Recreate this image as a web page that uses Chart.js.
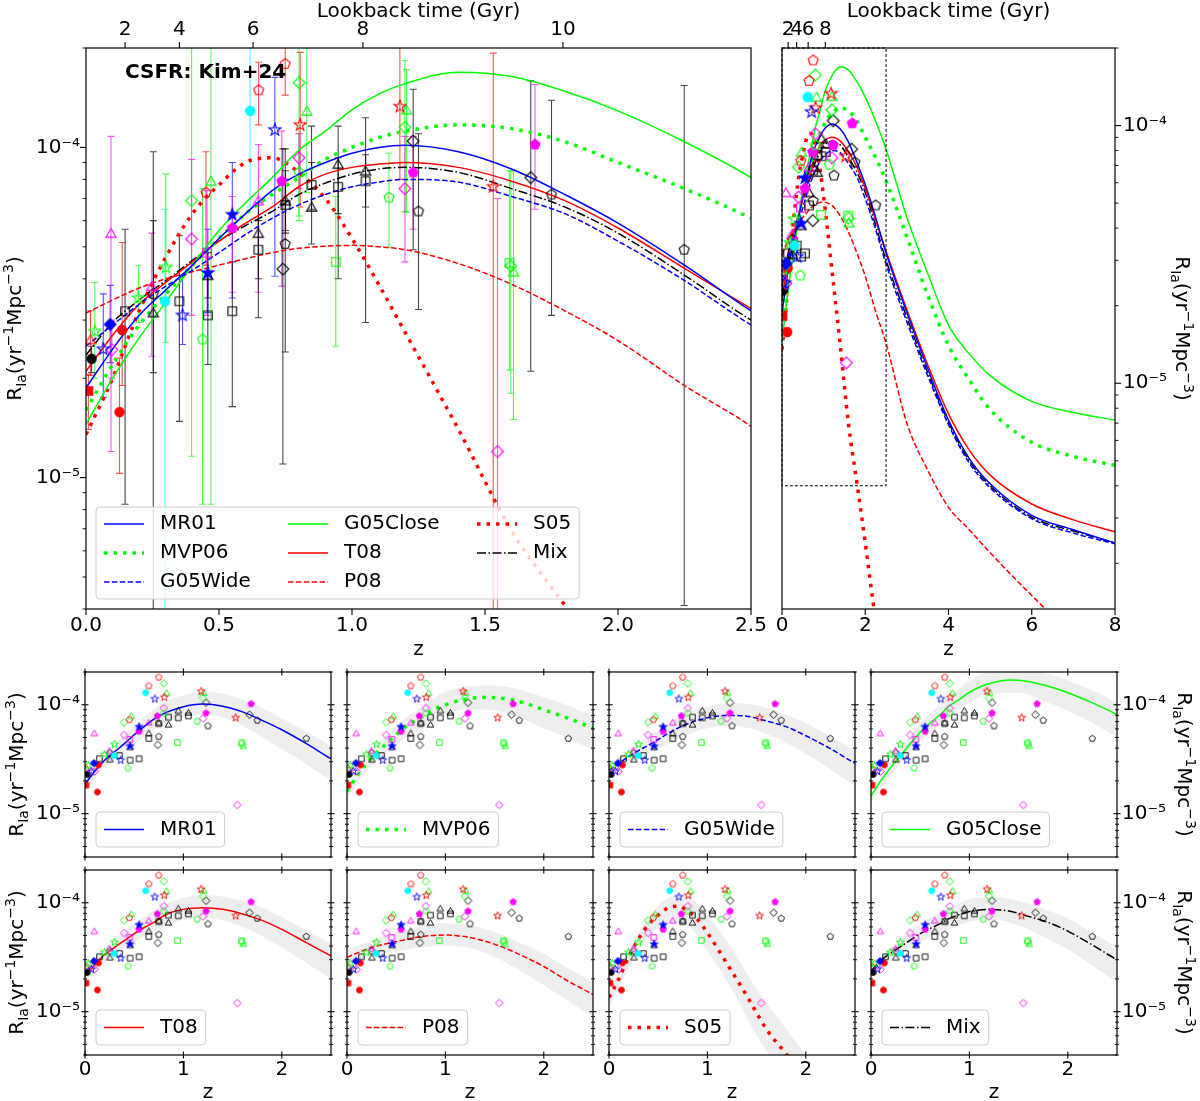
<!DOCTYPE html>
<html>
<head>
<meta charset="utf-8">
<title>SN Ia rate vs redshift</title>
<script src="https://cdn.jsdelivr.net/npm/chart.js@4.4.0/dist/chart.umd.min.js"></script>
<style>
  html, body { margin: 0; padding: 0; background: #fff; }
  body { position: relative; width: 1200px; height: 1101px; overflow: hidden; }
  canvas { position: absolute; }
</style>
</head>
<body>
<script>
// ---------- model curves R_Ia(z), yr^-1 Mpc^-3, sampled on zGrid ----------
const zGrid = [0, 0.1, 0.2, 0.3, 0.4, 0.5, 0.6, 0.7, 0.8, 0.9, 1.0, 1.1, 1.2, 1.4, 1.6, 1.8, 2.0, 2.25, 2.5, 3.0, 3.5, 4.0, 4.5, 5.0, 6.0, 7.0, 8.0];
const rateMR01 = [1.87e-5, 2.45e-5, 3.1e-5, 3.7e-5, 4.4e-5, 5.3e-5, 6.3e-5, 7.4e-5, 8.3e-5, 9.0e-5, 9.6e-5, 1.0e-4, 1.015e-4, 9.7e-5, 8.6e-5, 7.2e-5, 5.9e-5, 4.4e-5, 3.2e-5, 1.88e-5, 1.14e-5, 7.2e-6, 5.1e-6, 4.07e-6, 3.07e-6, 2.7e-6, 2.4e-6];
const rateMVP06 = [1.6e-5, 2.2e-5, 2.9e-5, 3.6e-5, 4.4e-5, 5.3e-5, 6.3e-5, 7.2e-5, 8.1e-5, 9.2e-5, 1.0e-4, 1.07e-4, 1.12e-4, 1.17e-4, 1.14e-4, 1.04e-4, 9.0e-5, 7.5e-5, 6.1e-5, 3.7e-5, 2.2e-5, 1.4e-5, 1.03e-5, 7.9e-6, 5.9e-6, 5.2e-6, 4.8e-6];
const rateG05Wide = [2.5e-5, 2.9e-5, 3.35e-5, 3.8e-5, 4.25e-5, 4.8e-5, 5.45e-5, 6.1e-5, 6.7e-5, 7.2e-5, 7.6e-5, 7.85e-5, 8.0e-5, 7.85e-5, 7.1e-5, 6.3e-5, 5.2e-5, 3.95e-5, 2.9e-5, 1.73e-5, 1.07e-5, 6.9e-6, 4.9e-6, 3.93e-6, 2.98e-6, 2.62e-6, 2.38e-6];
const rateG05Close = [1.45e-5, 2.0e-5, 2.65e-5, 3.4e-5, 4.4e-5, 5.6e-5, 6.8e-5, 8.1e-5, 9.8e-5, 1.12e-4, 1.3e-4, 1.45e-4, 1.56e-4, 1.69e-4, 1.64e-4, 1.48e-4, 1.29e-4, 1.04e-4, 8.1e-5, 4.4e-5, 2.67e-5, 1.68e-5, 1.3e-5, 1.07e-5, 8.5e-6, 7.7e-6, 7.2e-6];
const rateT08 = [2.1e-5, 2.7e-5, 3.35e-5, 3.9e-5, 4.5e-5, 5.2e-5, 5.9e-5, 6.6e-5, 7.6e-5, 8.3e-5, 8.7e-5, 8.9e-5, 9.0e-5, 8.7e-5, 7.9e-5, 6.9e-5, 5.7e-5, 4.3e-5, 3.25e-5, 1.93e-5, 1.18e-5, 7.6e-6, 5.5e-6, 4.4e-6, 3.4e-6, 2.95e-6, 2.65e-6];
const rateP08 = [3.15e-5, 3.45e-5, 3.75e-5, 4.0e-5, 4.2e-5, 4.4e-5, 4.6e-5, 4.8e-5, 4.95e-5, 5.02e-5, 5.05e-5, 5.0e-5, 4.9e-5, 4.45e-5, 3.85e-5, 3.2e-5, 2.6e-5, 1.9e-5, 1.43e-5, 7.0e-6, 4.6e-6, 3.3e-6, 2.7e-6, 2.2e-6, 1.5e-6, 1.05e-6, 7.5e-7];
const rateS05 = [1.35e-5, 2.0e-5, 3.2e-5, 4.65e-5, 6.3e-5, 7.7e-5, 9.0e-5, 9.3e-5, 8.4e-5, 7.0e-5, 5.3e-5, 3.85e-5, 2.75e-5, 1.4e-5, 6.9e-6, 4.1e-6, 2.4e-6, 1.2e-6, 7e-7, null, null, null, null, null, null, null, null];
const rateMix = [2.35e-5, 2.95e-5, 3.45e-5, 3.95e-5, 4.55e-5, 5.2e-5, 5.8e-5, 6.4e-5, 7.2e-5, 7.8e-5, 8.3e-5, 8.6e-5, 8.7e-5, 8.4e-5, 7.5e-5, 6.6e-5, 5.5e-5, 4.1e-5, 3.0e-5, 1.8e-5, 1.1e-5, 7.05e-6, 5.0e-6, 4.0e-6, 3.02e-6, 2.67e-6, 2.4e-6];

// ---------- grey uncertainty bands of the small panels ----------
const bandZ = [0, 0.25, 0.5, 0.75, 1.0, 1.25, 1.5, 1.75, 2.0, 2.25, 2.5];
const bandHiMR01 = [2.07e-5, 3.9e-5, 6.4e-5, 9.8e-5, 1.23e-4, 1.31e-4, 1.2e-4, 9.8e-5, 7.5e-5, 5.7e-5, 4.2e-5];
const bandLoMR01 = [1.63e-5, 2.9e-5, 4.35e-5, 6.3e-5, 7.7e-5, 8.1e-5, 7.1e-5, 5.4e-5, 3.9e-5, 2.85e-5, 2.0e-5];
const bandHiMVP06 = [1.8e-5, 3.75e-5, 6.4e-5, 9.5e-5, 1.32e-4, 1.48e-4, 1.5e-4, 1.38e-4, 1.17e-4, 9.8e-5, 7.9e-5];
const bandLoMVP06 = [1.4e-5, 2.75e-5, 4.35e-5, 6.1e-5, 8.2e-5, 9.1e-5, 8.9e-5, 7.6e-5, 6.1e-5, 4.9e-5, 3.8e-5];
const bandHiG05Wide = [2.8e-5, 4.15e-5, 5.8e-5, 8.0e-5, 9.7e-5, 1.04e-4, 9.9e-5, 8.5e-5, 6.8e-5, 5.1e-5, 3.8e-5];
const bandLoG05Wide = [2.2e-5, 3.05e-5, 3.95e-5, 5.1e-5, 6.1e-5, 6.4e-5, 5.85e-5, 4.7e-5, 3.55e-5, 2.55e-5, 1.8e-5];
const bandHiG05Close = [1.62e-5, 3.45e-5, 6.7e-5, 1.09e-4, 1.66e-4, 2.08e-4, 2.18e-4, 1.98e-4, 1.68e-4, 1.35e-4, 1.05e-4];
const bandLoG05Close = [1.28e-5, 2.55e-5, 4.6e-5, 7.0e-5, 1.04e-4, 1.28e-4, 1.29e-4, 1.09e-4, 8.8e-5, 6.8e-5, 5.0e-5];
const bandHiT08 = [2.35e-5, 4.2e-5, 6.4e-5, 9.0e-5, 1.11e-4, 1.17e-4, 1.09e-4, 9.4e-5, 7.4e-5, 5.6e-5, 4.2e-5];
const bandLoT08 = [1.85e-5, 3.1e-5, 4.35e-5, 5.75e-5, 7.0e-5, 7.2e-5, 6.5e-5, 5.2e-5, 3.9e-5, 2.8e-5, 2.0e-5];
const bandHiP08 = [3.7e-5, 4.5e-5, 5.3e-5, 6.1e-5, 6.5e-5, 6.2e-5, 5.4e-5, 4.35e-5, 3.4e-5, 2.5e-5, 1.86e-5];
const bandLoP08 = [2.6e-5, 3.3e-5, 3.6e-5, 3.9e-5, 4.0e-5, 3.85e-5, 3.2e-5, 2.4e-5, 1.75e-5, 1.25e-5, 8.9e-6];
const bandHiS05 = [1.5e-5, 4.4e-5, 9.5e-5, 1.2e-4, 7.6e-5, 3.8e-5, 1.6e-5, 8e-6, 4e-6, 2e-6, 1.2e-6];
const bandLoS05 = [1.1e-5, 3.0e-5, 5.9e-5, 6.5e-5, 3.6e-5, 1.6e-5, 6e-6, 2.9e-6, 1.4e-6, 7e-7, 4e-7];
const bandHiMix = [2.65e-5, 4.25e-5, 6.4e-5, 8.6e-5, 1.08e-4, 1.13e-4, 1.04e-4, 8.8e-5, 7.2e-5, 5.3e-5, 3.9e-5];
const bandLoMix = [2.05e-5, 3.15e-5, 4.35e-5, 5.5e-5, 6.7e-5, 7.0e-5, 6.2e-5, 4.9e-5, 3.75e-5, 2.65e-5, 1.85e-5];

// ---------- observed rates: [z, rate, lower error end, upper error end] ----------
const obsRedPentagon = [[0.749, 1.79e-4, 1.44e-4, 3e-4], [0.649, 1.49e-4, 1.17e-4, 1.81e-4], [0.451, 7.3e-5, 4.4e-5, 9.7e-5]];
const obsCyanCircle = [[0.617, 1.29e-4, 6.6e-5, 3e-4], [0.297, 3.42e-5, 2e-6, 6.5e-5]];
const obsBlueStar = [[0.71, 1.13e-4, 4.07e-5, 1.63e-4], [0.363, 3.1e-5, 2.53e-5, 4.1e-5], [0.065, 2.45e-5, 1.75e-5, 3.6e-5]];
const obsBlueStarFilled = [[0.55, 6.26e-5, 3.5e-5, 9.0e-5], [0.458, 4.17e-5, 3.16e-5, 5.65e-5]];
const obsBlueDiamondFilled = [[0.091, 2.91e-5, 2.23e-5, 3.82e-5]];
const obsRedStar = [[0.805, 1.17e-4, 6.6e-5, 1.94e-4], [1.18, 1.33e-4, 8.0e-5, 3e-4], [1.531, 7.6e-5, 2e-6, 1.93e-4]];
const obsGreenDiamond = [[0.801, 1.57e-4, 6.2e-5, 3e-4], [1.199, 1.15e-4, 6.4e-5, 1.83e-4], [0.397, 6.9e-5, 1.16e-5, 3e-4], [1.597, 4.37e-5, 1.8e-5, 8.5e-5]];
const obsGreenTriangle = [[0.83, 1.29e-4, 7.3e-5, 3e-4], [1.205, 1.3e-4, 6.35e-5, 1.72e-4], [0.47, 7.9e-5, 8.3e-6, 3e-4], [1.607, 4.2e-5, 1.5e-5, 8.5e-5]];
const obsGreenCircle = [[0.801, 8.4e-5, 6.0e-5, 1.1e-4], [1.139, 7.05e-5, 4.97e-5, 9.6e-5], [0.438, 2.62e-5, 8.3e-6, 7.5e-5]];
const obsGreenSquare = [[0.939, 4.5e-5, 2.5e-5, 7.1e-5], [1.592, 4.47e-5, 2.12e-5, 8.5e-5]];
const obsGreenStar = [[0.3, 4.33e-5, 2.57e-5, 8.3e-5], [0.197, 3.5e-5, 2.95e-5, 4.38e-5], [0.033, 2.77e-5, 2.0e-5, 3.9e-5]];
const obsMagentaDiamond = [[0.801, 9.3e-5, 7.5e-5, 1.1e-4], [1.199, 7.5e-5, 4.5e-5, 1.08e-4], [0.397, 5.28e-5, 3.1e-5, 9.2e-5], [1.547, 1.2e-5, 2e-6, 7.0e-5], [0.097, 2.44e-5, 2.0e-5, 3.0e-5]];
const obsMagentaTriangle = [[0.094, 5.5e-5, 1.2e-5, 1.08e-4], [0.648, 6.9e-5, 3.64e-5, 1.02e-4], [0.247, 3.8e-5, 2.33e-5, 5.5e-5]];
const obsMagentaSquare = [[0.455, 4.8e-5, 3.1e-5, 7.4e-5]];
const obsMagentaPentagonFilled = [[0.736, 7.9e-5, 3.8e-5, 1.12e-4], [0.55, 5.7e-5, 3.64e-5, 7.1e-5], [1.23, 8.4e-5, 5.65e-5, 1.08e-4], [1.688, 1.02e-4, 6.5e-5, 1.55e-4]];
const obsBlackTriangle = [[0.948, 8.9e-5, 4.0e-5, 1.16e-4], [0.848, 6.6e-5, 5.1e-5, 1.16e-4], [1.051, 8.5e-5, 2.95e-5, 1.23e-4], [0.648, 5.5e-5, 3.05e-5, 6.8e-5], [0.75, 6.9e-5, 5.5e-5, 8.5e-5], [0.458, 4.1e-5, 3.5e-5, 4.8e-5], [0.253, 3.16e-5, 2.08e-5, 9.7e-5]];
const obsBlackSquare = [[0.948, 7.6e-5, 6.3e-5, 9.3e-5], [0.848, 7.7e-5, 6.5e-5, 9.0e-5], [1.051, 7.9e-5, 6.6e-5, 9.5e-5], [0.648, 4.9e-5, 4.0e-5, 6.0e-5], [0.55, 3.19e-5, 1.64e-5, 4.5e-5], [0.458, 3.1e-5, 2.2e-5, 4.2e-5], [0.351, 3.42e-5, 1.48e-5, 5.4e-5], [0.147, 3.19e-5, 8.3e-6, 5.65e-5], [0.75, 6.7e-5, 5.6e-5, 8.0e-5]];
const obsBlackPentagon = [[0.749, 5.1e-5, 2.4e-5, 9.9e-5], [1.25, 6.4e-5, 3.23e-5, 1.1e-4], [1.75, 7.2e-5, 3.1e-5, 1.39e-4], [2.249, 4.9e-5, 4.1e-6, 1.54e-4], [0.253, 3.6e-5, 2e-6, 6.0e-5]];
const obsBlackDiamond = [[0.74, 4.28e-5, 1.1e-5, 9.9e-5], [1.23, 1.045e-4, 4.9e-5, 1.5e-4], [1.672, 8.1e-5, 2.1e-5, 1.59e-4]];
const obsBlackCircleFilled = [[0.021, 2.29e-5, 2.08e-5, 2.5e-5]];
const obsRedSquareFilled = [[0.009, 1.83e-5, 1.4e-5, 2.05e-5]];
const obsRedTriangle = [[0.017, 2.62e-5, 2.04e-5, 3.2e-5]];
const obsRedCircleFilled = [[0.136, 2.8e-5, 1.9e-5, 5.15e-5], [0.126, 1.58e-5, 1.03e-5, 2.3e-5]];

// ---------- axes ----------
const lookbackGyr = [2, 4, 6, 8, 10];
const lookbackZ = [0.147, 0.351, 0.628, 1.041, 1.793];
const mainZTicks = [0, 0.5, 1, 1.5, 2, 2.5];
const wideZTicks = [0, 2, 4, 6, 8];
const smallZTicks = [0, 1, 2];
const mainRange = { zMax: 2.5, rMin: 4e-6, rMax: 2e-4 };
const wideRange = { zMax: 8, rMin: 1.33e-6, rMax: 2e-4 };

// ---------- styles ----------
const COL = { red: '#ff0000', green: '#00ff00', blue: '#0000ff', magenta: '#ff00ff', cyan: '#00ffff', black: '#000000' };
const modelNames = ['MR01', 'MVP06', 'G05Wide', 'G05Close', 'T08', 'P08', 'S05', 'Mix'];
const modelRates = { MR01: rateMR01, MVP06: rateMVP06, G05Wide: rateG05Wide, G05Close: rateG05Close, T08: rateT08, P08: rateP08, S05: rateS05, Mix: rateMix };
const modelBands = {
  MR01: [bandHiMR01, bandLoMR01], MVP06: [bandHiMVP06, bandLoMVP06], G05Wide: [bandHiG05Wide, bandLoG05Wide], G05Close: [bandHiG05Close, bandLoG05Close],
  T08: [bandHiT08, bandLoT08], P08: [bandHiP08, bandLoP08], S05: [bandHiS05, bandLoS05], Mix: [bandHiMix, bandLoMix]
};
const modelStyle = {
  MR01: { color: COL.blue, width: 1.5, dash: [] },
  MVP06: { color: COL.green, width: 3.5, dash: [3.5, 6] },
  G05Wide: { color: COL.blue, width: 1.5, dash: [5.5, 2.4] },
  G05Close: { color: COL.green, width: 1.5, dash: [] },
  T08: { color: COL.red, width: 1.5, dash: [] },
  P08: { color: COL.red, width: 1.5, dash: [5.5, 2.4] },
  S05: { color: COL.red, width: 3.5, dash: [3.5, 6] },
  Mix: { color: COL.black, width: 1.5, dash: [9, 2.5, 1.5, 2.5] }
};
const obsSeries = [
  { data: obsRedPentagon, shape: 'pentagon', color: COL.red, filled: false },
  { data: obsCyanCircle, shape: 'circle', color: COL.cyan, filled: true },
  { data: obsBlueStar, shape: 'star', color: COL.blue, filled: false },
  { data: obsBlueStarFilled, shape: 'star', color: COL.blue, filled: true },
  { data: obsBlueDiamondFilled, shape: 'diamond', color: COL.blue, filled: true },
  { data: obsRedStar, shape: 'star', color: COL.red, filled: false },
  { data: obsGreenDiamond, shape: 'diamond', color: COL.green, filled: false },
  { data: obsGreenTriangle, shape: 'triangle', color: COL.green, filled: false },
  { data: obsGreenCircle, shape: 'pentagon', color: COL.green, filled: false },
  { data: obsGreenSquare, shape: 'square', color: COL.green, filled: false },
  { data: obsGreenStar, shape: 'star', color: COL.green, filled: false },
  { data: obsMagentaDiamond, shape: 'diamond', color: COL.magenta, filled: false },
  { data: obsMagentaTriangle, shape: 'triangle', color: COL.magenta, filled: false },
  { data: obsMagentaSquare, shape: 'square', color: COL.magenta, filled: false },
  { data: obsMagentaPentagonFilled, shape: 'pentagon', color: COL.magenta, filled: true },
  { data: obsBlackTriangle, shape: 'triangle', color: COL.black, filled: false },
  { data: obsBlackSquare, shape: 'square', color: COL.black, filled: false },
  { data: obsBlackPentagon, shape: 'pentagon', color: COL.black, filled: false },
  { data: obsBlackDiamond, shape: 'diamond', color: COL.black, filled: false },
  { data: obsBlackCircleFilled, shape: 'circle', color: COL.black, filled: true },
  { data: obsRedSquareFilled, shape: 'square', color: COL.red, filled: true },
  { data: obsRedTriangle, shape: 'triangle', color: COL.red, filled: false },
  { data: obsRedCircleFilled, shape: 'circle', color: COL.red, filled: true }
];

const FONT = 'DejaVu Sans';
const SUP = { '-3': '⁻³', '-4': '⁻⁴', '-5': '⁻⁵', '-6': '⁻⁶' };

function isDecade(v) {
  const e = Math.log10(v);
  return Math.abs(e - Math.round(e)) < 1e-6;
}

// 1..9 x 10^n positions for the log axis
function logTickValues(min, max) {
  const out = [];
  for (let e = -7; e <= -3; e++) {
    for (let k = 1; k <= 9; k++) {
      const v = k * Math.pow(10, e);
      if (v >= min * 0.9999 && v <= max * 1.0001) out.push(v);
    }
  }
  return out;
}

function rgba(hex, a) {
  const n = parseInt(hex.slice(1), 16);
  return `rgba(${(n >> 16) & 255},${(n >> 8) & 255},${n & 255},${a})`;
}

// matplotlib-like marker glyphs as small canvases (pointStyle)
function makeMarker(shape, color, filled, k) {
  const size = Math.ceil(16 * k) + 2;
  const c = document.createElement('canvas');
  c.width = c.height = size;
  const g = c.getContext('2d');
  const m = size / 2;
  const poly = (pts) => pts.forEach(([r, a], i) => {
    const x = m + r * Math.cos(a), y = m + r * Math.sin(a);
    if (i === 0) g.moveTo(x, y); else g.lineTo(x, y);
  });
  const regular = (n, r) => poly(Array.from({ length: n }, (_, i) => [r, -Math.PI / 2 + 2 * Math.PI * i / n]));
  g.beginPath();
  if (shape === 'circle') g.arc(m, m, 4.6 * k, 0, Math.PI * 2);
  else if (shape === 'square') g.rect(m - 4.3 * k, m - 4.3 * k, 8.6 * k, 8.6 * k);
  else if (shape === 'triangle') { g.translate(0, 1.2 * k); regular(3, 5.9 * k); }
  else if (shape === 'diamond') regular(4, 5.9 * k);
  else if (shape === 'pentagon') regular(5, 5.2 * k);
  else if (shape === 'star') poly(Array.from({ length: 10 }, (_, i) => [i % 2 ? 2.6 * k : 6.4 * k, -Math.PI / 2 + Math.PI * i / 5]));
  g.closePath();
  if (filled) { g.fillStyle = color; g.fill(); }
  g.lineWidth = k < 0.8 ? 0.9 : 1.1;
  g.strokeStyle = color;
  g.stroke();
  return c;
}

function drawSideTicks(ctx, a, scale, side, mode, lens) {
  ctx.strokeStyle = '#000';
  ctx.setLineDash([]);
  scale.ticks.forEach(t => {
    const major = scale.type !== 'logarithmic' || isDecade(t.value);
    const len = major ? lens[0] : lens[1];
    const outL = mode === 'out' ? len : len / 2;
    const inL = mode === 'out' ? 0 : len / 2;
    const p = scale.getPixelForValue(t.value);
    ctx.lineWidth = major ? 1.1 : 0.9;
    ctx.beginPath();
    if (side === 'left') { ctx.moveTo(a.left - outL, p); ctx.lineTo(a.left + inL, p); }
    else if (side === 'right') { ctx.moveTo(a.right + outL, p); ctx.lineTo(a.right - inL, p); }
    else if (side === 'bottom') { ctx.moveTo(p, a.bottom + outL); ctx.lineTo(p, a.bottom - inL); }
    else { ctx.moveTo(p, a.top - outL); ctx.lineTo(p, a.top + inL); }
    ctx.stroke();
  });
}

function drawLegend(ctx, a, lg) {
  ctx.font = `20px "${FONT}"`;
  const nCols = lg.colX.length;
  const lastCol = lg.names.slice((nCols - 1) * lg.rows);
  const textW = Math.max(...lastCol.map(n => ctx.measureText(n).width));
  const w = lg.colX[nCols - 1] + 56 + textW + 8;
  const h = lg.rowY0 * 2 + (lg.rows - 1) * lg.rowStep;
  const x0 = a.left + lg.left, y0 = a.bottom - lg.bottom - h;
  ctx.beginPath();
  ctx.roundRect(x0, y0, w, h, 4);
  ctx.fillStyle = 'rgba(255,255,255,0.8)';
  ctx.fill();
  ctx.strokeStyle = '#cccccc';
  ctx.lineWidth = 1;
  ctx.stroke();
  lg.names.forEach((n, i) => {
    const c = Math.floor(i / lg.rows), r = i % lg.rows;
    const st = modelStyle[n];
    const x = x0 + lg.colX[c], y = y0 + lg.rowY0 + r * lg.rowStep;
    ctx.beginPath();
    ctx.setLineDash(st.dash);
    ctx.lineWidth = st.width;
    ctx.strokeStyle = st.color;
    ctx.moveTo(x, y);
    ctx.lineTo(x + 40, y);
    ctx.stroke();
    ctx.setLineDash([]);
    ctx.fillStyle = '#000';
    ctx.textBaseline = 'middle';
    ctx.textAlign = 'left';
    ctx.fillText(n, x + 56, y);
  });
}

// R_Ia(yr^-1 Mpc^-3) with sub/superscripts, rotated
const yTitleParts = [['R', 0], ['Ia', 1], ['(yr', 0], ['−1', 2], ['Mpc', 0], ['−3', 2], [')', 0]];
function drawYTitle(ctx, cx, cy, rot) {
  const fonts = [`20px "${FONT}"`, `14px "${FONT}"`, `14px "${FONT}"`];
  const shift = [0, 5, -8];
  ctx.save();
  ctx.translate(cx, cy);
  ctx.rotate(rot);
  ctx.fillStyle = '#000';
  ctx.textBaseline = 'alphabetic';
  ctx.textAlign = 'left';
  const widths = yTitleParts.map(([t, k]) => { ctx.font = fonts[k]; return ctx.measureText(t).width; });
  let x = -widths.reduce((s, v) => s + v, 0) / 2;
  yTitleParts.forEach(([t, k], i) => {
    ctx.font = fonts[k];
    ctx.fillText(t, x, 7 + shift[k]);
    x += widths[i];
  });
  ctx.restore();
}

const panelDeco = {
  id: 'panelDeco',
  beforeDatasetsDraw(chart, args, o) {
    if (!o.errorBars) return;
    const { ctx, chartArea: a, scales: { x, y } } = chart;
    ctx.save();
    ctx.beginPath();
    ctx.rect(a.left, a.top, a.width, a.height);
    ctx.clip();
    ctx.lineWidth = 1.1;
    chart.data.datasets.forEach(ds => {
      if (!ds.errLo) return;
      ctx.strokeStyle = ds.errColor;
      ds.data.forEach((p, j) => {
        const px = x.getPixelForValue(p.x);
        const lo = y.getPixelForValue(ds.errLo[j]);
        const hi = y.getPixelForValue(ds.errHi[j]);
        ctx.beginPath();
        ctx.moveTo(px, lo); ctx.lineTo(px, hi);
        ctx.moveTo(px - 3.5, lo); ctx.lineTo(px + 3.5, lo);
        ctx.moveTo(px - 3.5, hi); ctx.lineTo(px + 3.5, hi);
        ctx.stroke();
      });
    });
    ctx.restore();
  },
  afterDraw(chart, args, o) {
    const { ctx, chartArea: a, scales } = chart;
    ctx.save();
    if (o.zoomBox) {
      const bx0 = scales.x.getPixelForValue(o.zoomBox.z[0]), bx1 = scales.x.getPixelForValue(o.zoomBox.z[1]);
      const by0 = scales.y.getPixelForValue(o.zoomBox.r[0]), by1 = scales.y.getPixelForValue(o.zoomBox.r[1]);
      ctx.strokeStyle = '#000';
      ctx.lineWidth = 1;
      ctx.setLineDash([3, 2]);
      ctx.strokeRect(bx0, by1, bx1 - bx0, by0 - by1);
      ctx.setLineDash([]);
    }
    ctx.strokeStyle = '#000';
    ctx.lineWidth = 1.2;
    ctx.strokeRect(a.left, a.top, a.width, a.height);
    o.ticks.forEach(([side, id, mode]) => drawSideTicks(ctx, a, scales[id], side, mode, o.tickLen));
    if (o.legend) drawLegend(ctx, a, o.legend);
    if (o.note) {
      ctx.font = `bold 20px "${FONT}"`;
      ctx.fillStyle = '#000';
      ctx.textBaseline = 'middle';
      ctx.textAlign = 'left';
      ctx.fillText(o.note, a.left + 39, a.top + 25);
    }
    if (o.yTitle) {
      const cy = (a.top + a.bottom) / 2;
      if (o.yTitle.side === 'left') drawYTitle(ctx, a.left - o.yTitle.offset, cy, -Math.PI / 2);
      else drawYTitle(ctx, a.right + o.yTitle.offset, cy, Math.PI / 2);
    }
    ctx.restore();
  }
};

function pointDatasets(k, withErr) {
  return obsSeries.map(s => ({
    label: '_obs',
    data: s.data.map(p => ({ x: p[0], y: p[1] })),
    pointStyle: makeMarker(s.shape, s.color, s.filled, k),
    pointRadius: 4,
    showLine: false,
    errLo: withErr ? s.data.map(p => p[2]) : null,
    errHi: withErr ? s.data.map(p => p[3]) : null,
    errColor: rgba(s.color, s.color === COL.black ? 0.72 : 0.68),
    clip: 0
  }));
}

function curveDataset(name) {
  const st = modelStyle[name];
  return {
    label: name,
    data: zGrid.map((z, i) => ({ x: z, y: modelRates[name][i] })),
    showLine: true, pointRadius: 0, fill: false,
    borderColor: st.color, borderWidth: st.width, borderDash: st.dash,
    cubicInterpolationMode: 'monotone', clip: 0
  };
}

function bandDatasets(name) {
  const [hi, lo] = modelBands[name];
  const base = { showLine: true, pointRadius: 0, borderWidth: 0, borderColor: 'rgba(0,0,0,0)', cubicInterpolationMode: 'monotone', clip: 0 };
  return [
    { ...base, label: '_hi', data: bandZ.map((z, i) => ({ x: z, y: hi[i] })), fill: '+1', backgroundColor: 'rgba(0,0,0,0.065)' },
    { ...base, label: '_lo', data: bandZ.map((z, i) => ({ x: z, y: lo[i] })), fill: false }
  ];
}

function makePanel(p) {
  const [L, T, R, B] = p.rect;
  const m = p.margin;
  const cv = document.createElement('canvas');
  cv.width = R - L + m.l + m.r;
  cv.height = B - T + m.t + m.b;
  cv.style.left = (L - m.l) + 'px';
  cv.style.top = (T - m.t) + 'px';
  document.body.appendChild(cv);

  const font = { family: FONT, size: 20 };
  const scales = {
    x: {
      type: 'linear', position: 'bottom', min: 0, max: p.zMax,
      grid: { display: false, drawTicks: false }, border: { display: false },
      afterBuildTicks: s => { s.ticks = p.zTicks.map(v => ({ value: v })); },
      afterFit: s => { s.height = m.b; s.paddingLeft = 0; s.paddingRight = 0; },
      ticks: { display: p.xLabels, autoSkip: false, maxRotation: 0, padding: p.xPad, font, color: '#000', callback: p.xFormat },
      title: { display: p.xLabels, text: 'z', font: { ...font, lineHeight: 1 }, color: '#000', padding: { top: 0, bottom: p.zTitlePad } }
    },
    y: {
      type: 'logarithmic', position: p.yPos, min: p.rMin, max: p.rMax,
      grid: { display: false, drawTicks: false }, border: { display: false },
      afterBuildTicks: s => { s.ticks = logTickValues(p.rMin, p.rMax).map(v => ({ value: v })); },
      afterFit: s => { s.width = p.yPos === 'left' ? m.l : m.r; s.paddingTop = 0; s.paddingBottom = 0; },
      ticks: {
        display: p.yLabels, autoSkip: false, padding: p.yPad, font, color: '#000',
        callback: v => isDecade(v) ? '10' + SUP[Math.round(Math.log10(v))] : ''
      }
    }
  };
  if (p.lookback) {
    scales.xTop = {
      type: 'linear', position: 'top', min: 0, max: p.zMax,
      grid: { display: false, drawTicks: false }, border: { display: false },
      afterBuildTicks: s => { s.ticks = p.lookback.map(v => ({ value: v })); },
      afterFit: s => { s.height = m.t; s.paddingLeft = 0; s.paddingRight = 0; },
      ticks: { autoSkip: false, maxRotation: 0, padding: 6, font, color: '#000', callback: (v, i) => p.lookbackLabels[i] },
      title: { display: true, text: 'Lookback time (Gyr)', font: { ...font, lineHeight: 1 }, color: '#000', padding: { top: 2, bottom: 0 } }
    };
  }

  return new Chart(cv, {
    type: 'scatter',
    data: { datasets: p.datasets },
    options: {
      responsive: false, animation: false, events: [],
      layout: {
        padding: {
          left: p.yPos === 'left' ? 0 : m.l,
          right: p.yPos === 'right' ? 0 : m.r,
          top: p.lookback ? 0 : m.t,
          bottom: 0
        }
      },
      scales,
      plugins: { legend: { display: false }, tooltip: { enabled: false }, panelDeco: p.deco }
    },
    plugins: [panelDeco]
  });
}

// ---------- big panel: z = 0 - 2.5 ----------
makePanel({
  rect: [86, 48, 751, 609], margin: { l: 86, t: 48, r: 20, b: 60 },
  zMax: mainRange.zMax, zTicks: mainZTicks, rMin: mainRange.rMin, rMax: mainRange.rMax,
  xLabels: true, xPad: 5, zTitlePad: 9, xFormat: v => v.toFixed(1),
  yPos: 'left', yLabels: true, yPad: 6,
  lookback: lookbackZ, lookbackLabels: lookbackGyr,
  datasets: [...pointDatasets(1, true), ...modelNames.map(curveDataset)],
  deco: {
    errorBars: true,
    ticks: [['left', 'y', 'out'], ['bottom', 'x', 'out'], ['top', 'xTop', 'out']], tickLen: [6, 3.5],
    legend: { names: modelNames, rows: 3, colX: [8, 192, 381], rowY0: 17, rowStep: 29, left: 10, bottom: 10 },
    note: 'CSFR: Kim+24',
    yTitle: { side: 'left', offset: 72 }
  }
});

// ---------- wide panel: z = 0 - 8 ----------
makePanel({
  rect: [782, 48, 1115, 609], margin: { l: 10, t: 48, r: 85, b: 60 },
  zMax: wideRange.zMax, zTicks: wideZTicks, rMin: wideRange.rMin, rMax: wideRange.rMax,
  xLabels: true, xPad: 5, zTitlePad: 9, xFormat: v => String(v),
  yPos: 'right', yLabels: true, yPad: 8,
  lookback: lookbackZ.slice(0, 4), lookbackLabels: lookbackGyr.slice(0, 4),
  datasets: [...pointDatasets(1, false), ...modelNames.map(curveDataset)],
  deco: {
    ticks: [['right', 'y', 'out'], ['bottom', 'x', 'out'], ['top', 'xTop', 'out']], tickLen: [6, 3.5],
    zoomBox: { z: [0, mainRange.zMax], r: [mainRange.rMin, mainRange.rMax] },
    yTitle: { side: 'right', offset: 68 }
  }
});

// ---------- one small panel per model ----------
const colLeft = [85, 347, 609, 871];
const rowTop = [672, 870];
modelNames.forEach((name, i) => {
  const col = i % 4, row = Math.floor(i / 4);
  const L = colLeft[col], T = rowTop[row];
  const first = col === 0, last = col === 3, bottomRow = row === 1;
  makePanel({
    rect: [L, T, L + 246, T + 185],
    margin: { l: first ? 85 : 8, t: 6, r: last ? 82 : 8, b: bottomRow ? 48 : 6 },
    zMax: mainRange.zMax, zTicks: smallZTicks, rMin: mainRange.rMin, rMax: mainRange.rMax,
    xLabels: bottomRow, xPad: 3, zTitlePad: 0, xFormat: v => String(v),
    yPos: last ? 'right' : 'left', yLabels: first || last, yPad: 5,
    datasets: [...pointDatasets(0.64, false), curveDataset(name), ...bandDatasets(name)],
    deco: {
      ticks: [['left', 'y', 'inout'], ['right', 'y', 'inout'], ['bottom', 'x', 'inout'], ['top', 'x', 'inout']], tickLen: [7, 4],
      legend: { names: [name], rows: 1, colX: [8], rowY0: 17.5, rowStep: 0, left: 11, bottom: 10 },
      yTitle: first ? { side: 'left', offset: 69 } : (last ? { side: 'right', offset: 68 } : null)
    }
  });
});
</script>
</body>
</html>
